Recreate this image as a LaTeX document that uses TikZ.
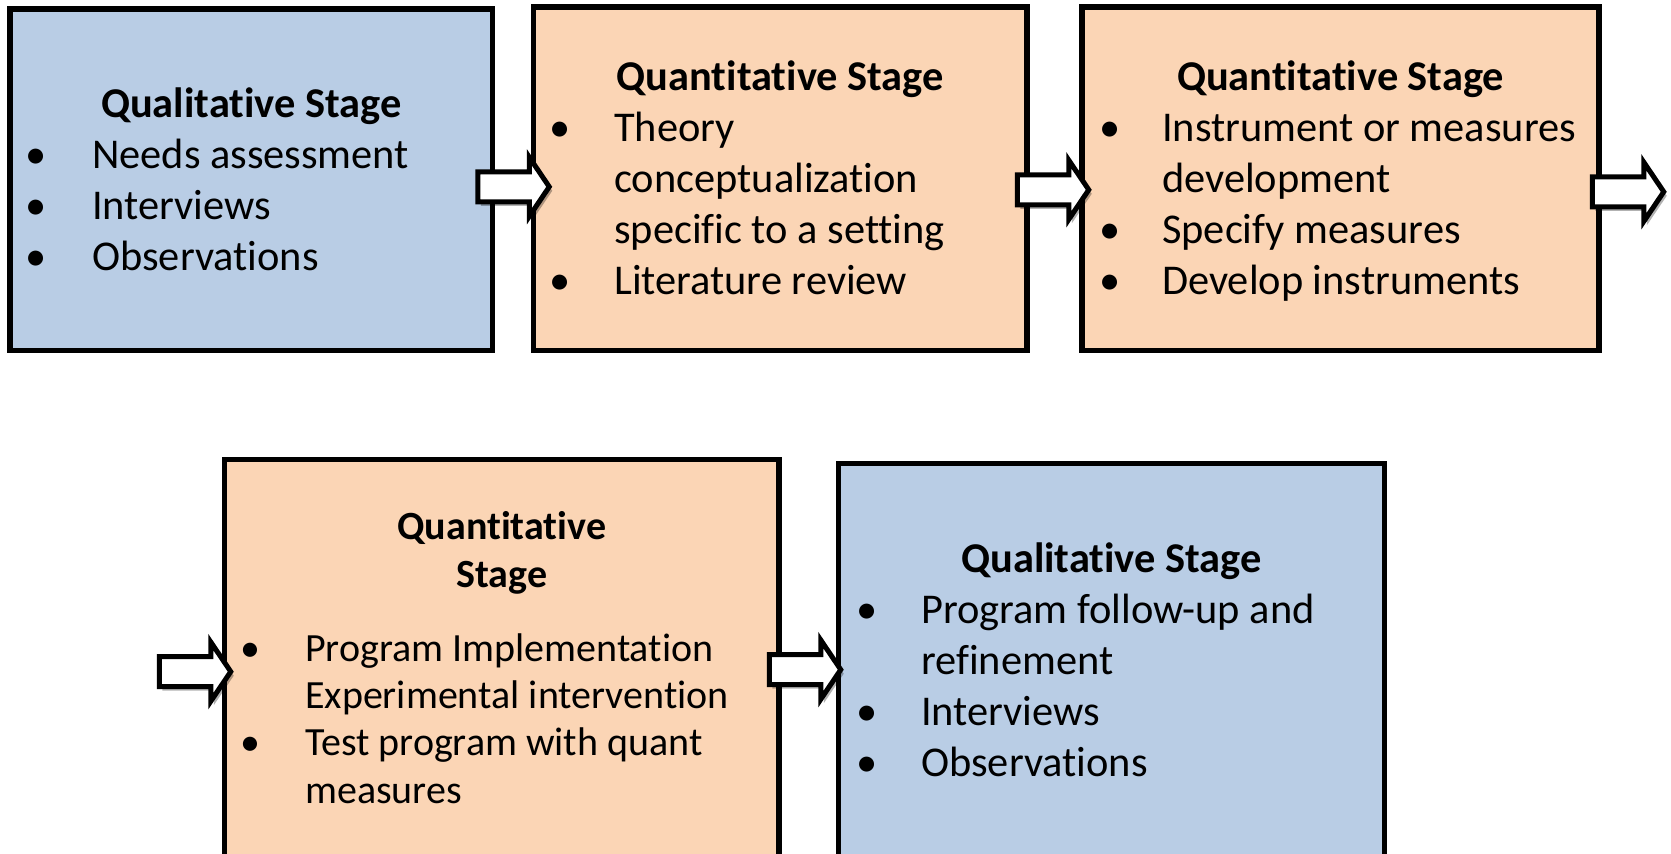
\documentclass[tikz,border=0pt]{standalone}
\usepackage{fontspec}
\setmainfont{Carlito}[Ligatures={NoCommon}]
\usepackage{tikz}
\usetikzlibrary{calc, shapes.arrows, shadows}

\definecolor{qualblue}{RGB}{185,205,229}
\definecolor{quantorange}{RGB}{251,213,181}

\begin{document}
\begin{tikzpicture}[x=1pt, y=-1pt,
		stagebox/.style={draw=black, line width=5.5pt, inner sep=0pt},
		qualbox/.style={stagebox, fill=qualblue},
		quantbox/.style={stagebox, fill=quantorange},
		headtext/.style={font=\fontsize{42.4}{51}\selectfont\bfseries, inner sep=0pt, anchor=base, align=center},
		bodytext/.style={font=\fontsize{42.4}{51}\selectfont, inner sep=0pt, anchor=base west},
		bullettext/.style={bodytext, anchor=base},
		stagearrow/.style={single arrow, draw=black, fill=white, line width=5pt,
			inner xsep=0pt, inner ysep=12.5pt, minimum width=0pt, minimum height=71.5pt,
			single arrow head extend=14.5pt, single arrow tip angle=112, anchor=tail,
			drop shadow={shadow xshift=3pt, shadow yshift=-4pt, fill=black, opacity=0.3}}]
	
	% Page
	\useasboundingbox (0,0) rectangle (1671,854);
	\clip (0,0) rectangle (1671,854);
	\fill[white] (0,0) rectangle (1671,854);
	
	% Line spacing
	\def\lsep{51}
	\def\lsepsmall{47.4}
	
	% === TOP ROW ===
	\node[qualbox, minimum width=482.5, minimum height=341.6] (qual1) at (251.25, 179.8) {};
	\node[quantbox, minimum width=493.5, minimum height=343.6] (quant1) at (780.25, 178.8) {};
	\node[quantbox, minimum width=517, minimum height=343.6] (quant2) at (1340.5, 178.8) {};
	
	\node[headtext] (qual1-head) at (qual1.center |- 0,117) {Qualitative Stage};
	\foreach \b/\txt [count=\i] in {1/Needs assessment, 1/Interviews, 1/Observations} {
		\node[bodytext] (qual1-l\i) at (92, {117+\lsep*\i}) {\txt};
		\ifnum\b=1 \node[bullettext] (qual1-d\i) at (36, {117+\lsep*\i}) {•}; \fi
	}
	
	\node[headtext] (quant1-head) at (quant1.center |- 0,90) {Quantitative Stage};
	\foreach \b/\txt [count=\i] in {1/Theory, 0/conceptualization, 0/specific to a setting, 1/Literature review} {
		\node[bodytext] (quant1-l\i) at (614, {90+\lsep*\i}) {\txt};
		\ifnum\b=1 \node[bullettext] (quant1-d\i) at (560, {90+\lsep*\i}) {•}; \fi
	}
	
	\node[headtext] (quant2-head) at (quant2.center |- 0,90) {Quantitative Stage};
	\foreach \b/\txt [count=\i] in {1/Instrument or measures, 0/development, 1/Specify measures, 1/Develop instruments} {
		\node[bodytext] (quant2-l\i) at (1162, {90+\lsep*\i}) {\txt};
		\ifnum\b=1 \node[bullettext] (quant2-d\i) at (1110, {90+\lsep*\i}) {•}; \fi
	}
	
	% === BOTTOM ROW ===
	\node[quantbox, minimum width=554.5, minimum height=420.7] (quant3) at (501.75, 669.65) {};
	\node[qualbox, minimum width=545.6, minimum height=416.4] (qual2) at (1111.5, 671.8) {};
	
	% base anchor sits on the last line here
	\node[headtext, font=\fontsize{40}{48}\selectfont\bfseries] (quant3-head) at (quant3.center |- 0,587) {Quantitative\\Stage};
	\foreach \b/\txt [count=\i] in {1/Program Implementation, 0/Experimental intervention, 1/Test program with quant, 0/measures} {
		\node[bodytext, font=\fontsize{40}{48}\selectfont] (quant3-l\i) at (305, {613.6+\lsepsmall*\i}) {\txt};
		\ifnum\b=1 \node[bullettext, font=\fontsize{40}{48}\selectfont] (quant3-d\i) at (250, {613.6+\lsepsmall*\i}) {•}; \fi
	}
	
	\node[headtext] (qual2-head) at (qual2.center |- 0,572) {Qualitative Stage};
	\foreach \b/\txt [count=\i] in {1/Program follow-up and, 0/refinement, 1/Interviews, 1/Observations} {
		\node[bodytext] (qual2-l\i) at (921, {572+\lsep*\i}) {\txt};
		\ifnum\b=1 \node[bullettext] (qual2-d\i) at (867, {572+\lsep*\i}) {•}; \fi
	}
	
	% === ARROWS ===
	\node[stagearrow] (arr1) at ($(qual1.east)+(-20,7)$) {};
	\node[stagearrow] (arr2) at ($(quant1.east)+(-15,11)$) {};
	\node[stagearrow] (arr3) at ($(quant2.east)+(-12,13)$) {};
	\node[stagearrow] (arr4) at ($(quant3.west)+(-65,2)$) {};
	\node[stagearrow] (arr5) at ($(quant3.east)+(-15,0)$) {};
	
\end{tikzpicture}
\end{document}
